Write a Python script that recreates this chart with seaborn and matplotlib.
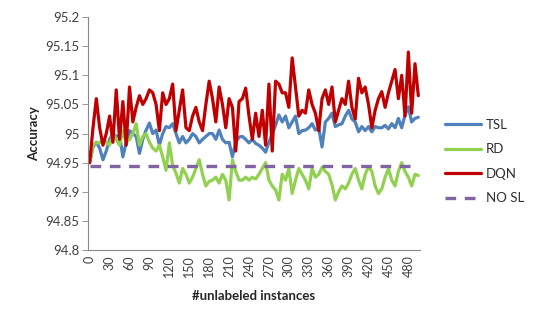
import numpy as np
import pandas as pd
import matplotlib
matplotlib.use('Agg')
import matplotlib.pyplot as plt
import seaborn as sns
from matplotlib.ticker import FixedLocator

# number of unlabeled instances: 0, 5, ..., 495
instances = list(range(0, 500, 5))

tsl = [94.95, 94.977, 94.985, 94.975, 94.955, 94.97, 94.99, 95.0, 94.995, 94.997,
       94.96, 94.985, 95.005, 95.0, 94.995, 94.966, 94.99, 95.006, 95.018, 95.0,
       95.006, 94.98, 95.0, 95.012, 95.01, 95.017, 95.0, 94.984, 94.995, 94.984,
       94.99, 95.0, 94.995, 94.984, 94.99, 94.995, 95.0, 95.0, 94.99, 95.006,
       94.99, 94.984, 94.985, 94.96, 94.985, 94.994, 94.995, 94.99, 94.984, 94.99,
       94.983, 94.98, 94.975, 94.968, 94.985, 95.0, 95.014, 95.032, 95.02, 95.03,
       95.01, 95.02, 95.03, 95.0, 95.005, 95.006, 95.01, 95.017, 95.006, 95.01,
       94.977, 95.02, 95.026, 95.035, 95.012, 95.015, 95.017, 95.03, 95.04, 95.025,
       95.02, 95.003, 95.012, 95.005, 95.012, 95.003, 95.012, 95.01, 95.01, 95.014,
       95.008, 95.017, 95.01, 95.026, 95.01, 95.032, 95.046, 95.02, 95.026, 95.028]

rd = [94.95, 94.98, 94.984, 94.984, 94.99, 94.985, 94.98, 95.0, 94.99, 94.98,
      95.005, 94.985, 94.99, 95.0, 95.017, 94.98, 94.995, 95.0, 94.985, 94.975,
      94.97, 94.98, 94.96, 94.937, 94.984, 94.945, 94.932, 94.915, 94.94, 94.93,
      94.915, 94.925, 94.94, 94.955, 94.93, 94.91, 94.918, 94.92, 94.925, 94.915,
      94.93, 94.92, 94.886, 94.955, 94.935, 94.92, 94.92, 94.925, 94.92, 94.925,
      94.922, 94.93, 94.94, 94.95, 94.92, 94.91, 94.903, 94.886, 94.93, 94.92,
      94.94, 94.897, 94.92, 94.94, 94.93, 94.92, 94.905, 94.94, 94.925, 94.93,
      94.942, 94.935, 94.93, 94.912, 94.886, 94.9, 94.91, 94.905, 94.915, 94.93,
      94.94, 94.92, 94.905, 94.93, 94.943, 94.935, 94.91, 94.897, 94.905, 94.925,
      94.94, 94.92, 94.91, 94.935, 94.95, 94.935, 94.925, 94.91, 94.93, 94.928]

dqn = [94.95, 95.01, 95.06, 95.01, 94.98, 95.0, 95.03, 94.985, 95.075, 94.99,
       95.055, 94.98, 95.08, 95.02, 95.045, 95.065, 95.05, 95.06, 95.075, 95.07,
       95.05, 95.005, 95.07, 95.05, 95.06, 95.085, 95.005, 95.04, 95.075, 95.01,
       95.005, 95.03, 95.045, 95.02, 95.005, 95.05, 95.09, 95.06, 95.02, 95.08,
       95.05, 95.01, 95.06, 95.045, 94.97, 95.055, 95.06, 95.078, 95.03, 94.99,
       95.035, 94.995, 95.04, 94.98, 95.085, 94.97, 95.09, 95.085, 95.07, 95.07,
       95.045, 95.13, 95.08, 95.03, 95.04, 95.035, 95.075, 95.05, 95.035, 95.005,
       95.06, 95.075, 95.05, 95.08, 95.02, 95.04, 95.06, 95.05, 95.09, 95.045,
       95.025, 95.095, 95.07, 95.08, 95.05, 95.01, 95.04, 95.06, 95.072, 95.045,
       95.07, 95.09, 95.11, 95.06, 95.1, 95.03, 95.14, 95.035, 95.12, 95.065]

no_sl = [94.945] * len(instances)

series = ['TSL', 'RD', 'DQN', 'NO SL']
colors = ['#4F81BD', '#92D050', '#C00000', '#8064A2']

df = pd.DataFrame({'instances': instances, 'TSL': tsl, 'RD': rd, 'DQN': dqn, 'NO SL': no_sl})
df_long = df.melt(id_vars='instances', var_name='method', value_name='accuracy')

sns.set_style('white')
plt.rcParams['font.family'] = ['Lato', 'DejaVu Sans']

fig = plt.figure(figsize=(5.38, 3.23), dpi=100)
ax = fig.add_axes([0.1636, 0.226, 0.617, 0.721])

for name, color in zip(series, colors):
    sub = df_long[df_long['method'] == name]
    if name == 'NO SL':
        sns.lineplot(data=sub, x='instances', y='accuracy', ax=ax, color=color,
                     linewidth=2.4, linestyle=(0, (3.2, 2.6)), label=name)
    else:
        sns.lineplot(data=sub, x='instances', y='accuracy', ax=ax, color=color,
                     linewidth=2.3, label=name)

ax.set_ylim(94.8, 95.2)
ax.set_yticks(np.arange(94.8, 95.2001, 0.05))
ax.set_yticklabels(['94.8', '94.85', '94.9', '94.95', '95', '95.05', '95.1', '95.15', '95.2'],
                   fontsize=9.5, color='#404040')

ax.set_xlim(-2.5, 497.5)
ax.set_xticks(list(range(0, 481, 30)))
ax.set_xticklabels([str(v) for v in range(0, 481, 30)], rotation=90, fontsize=9, color='#404040')
ax.xaxis.set_minor_locator(FixedLocator(list(np.arange(-2.5, 498, 5))))
ax.tick_params(axis='x', which='major', length=0, pad=4)
ax.tick_params(axis='x', which='minor', length=3, width=0.6, color='#888888', direction='out')
ax.tick_params(axis='y', which='major', length=4, width=0.6, color='#888888', direction='out', left=True, pad=2)

for side in ['top', 'right']:
    ax.spines[side].set_visible(False)
for side in ['left', 'bottom']:
    ax.spines[side].set_color('#888888')
    ax.spines[side].set_linewidth(0.8)

ax.set_xlabel('#unlabeled instances', fontsize=9.5, fontweight='bold', labelpad=9)
ax.set_ylabel('Accuracy', fontsize=9.5, fontweight='bold', labelpad=4)

ax.legend(loc='center left', bbox_to_anchor=(1.04, 0.38), frameon=False, fontsize=9.5,
          handlelength=2.7, labelspacing=0.95, handletextpad=0.4, labelcolor='#303030')

fig.savefig('out.png', dpi=100)
